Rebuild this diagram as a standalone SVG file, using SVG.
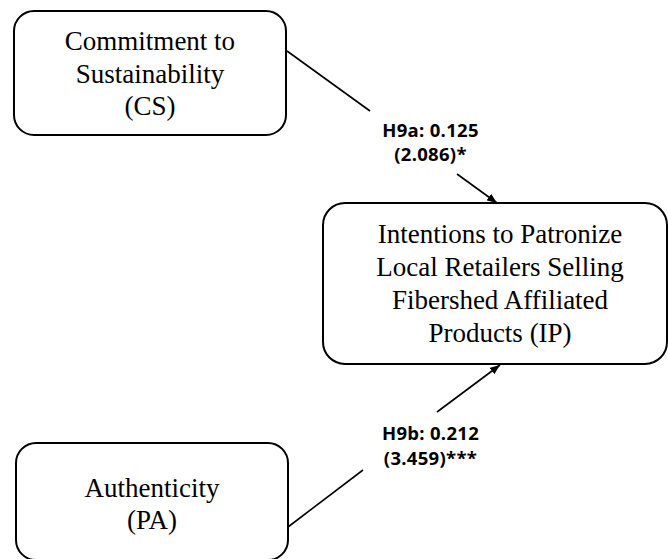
<svg xmlns="http://www.w3.org/2000/svg" width="668" height="559" viewBox="0 0 668 559">
  <defs>
    <marker id="arrow" viewBox="0 0 10 8" refX="10" refY="4" markerWidth="10" markerHeight="8" markerUnits="userSpaceOnUse" orient="auto">
      <path d="M0,0 L10,4 L0,8 Z" fill="#000"/>
    </marker>
  </defs>
  <style>
    .box { fill: #fff; stroke: #000; stroke-width: 2; }
    .node-text { font-family: "Liberation Serif", "Times New Roman", serif; font-size: 27px; fill: #000; text-anchor: middle; }
    .edge { stroke: #000; stroke-width: 1.6; fill: none; }
    .edge-label { font-family: "Open Sans", "Liberation Sans", sans-serif; font-weight: 700; font-size: 18.5px; letter-spacing: 0.3px; fill: #000; text-anchor: middle; }
  </style>
  <rect width="668" height="559" fill="#fff"/>

  <g id="connectors">
    <line class="edge" x1="287" y1="51" x2="370" y2="111"/>
    <line class="edge" x1="457" y1="174" x2="497" y2="203" marker-end="url(#arrow)"/>
    <line class="edge" x1="288" y1="527" x2="363" y2="470"/>
    <line class="edge" x1="437" y1="412" x2="500" y2="365" marker-end="url(#arrow)"/>
    <text class="edge-label" x="430.5" y="137">H9a: 0.125</text>
    <text class="edge-label" x="430.5" y="161">(2.086)*</text>
    <text class="edge-label" x="430.5" y="440">H9b: 0.212</text>
    <text class="edge-label" x="430.5" y="465">(3.459)***</text>
  </g>

  <g id="node-cs">
    <rect class="box" x="14" y="11" width="272" height="124" rx="20" ry="20"/>
    <text class="node-text" x="150" y="50">Commitment to</text>
    <text class="node-text" x="150" y="83">Sustainability</text>
    <text class="node-text" x="150" y="115">(CS)</text>
  </g>

  <g id="node-ip">
    <rect class="box" x="323" y="203" width="344" height="161" rx="22" ry="22"/>
    <text class="node-text" x="500" y="243">Intentions to Patronize</text>
    <text class="node-text" x="500" y="276">Local Retailers Selling</text>
    <text class="node-text" x="500" y="309">Fibershed Affiliated</text>
    <text class="node-text" x="500" y="342">Products (IP)</text>
  </g>

  <g id="node-pa">
    <rect class="box" x="16" y="443" width="272" height="117" rx="20" ry="20"/>
    <text class="node-text" x="152" y="497">Authenticity</text>
    <text class="node-text" x="152" y="529">(PA)</text>
  </g>
</svg>
